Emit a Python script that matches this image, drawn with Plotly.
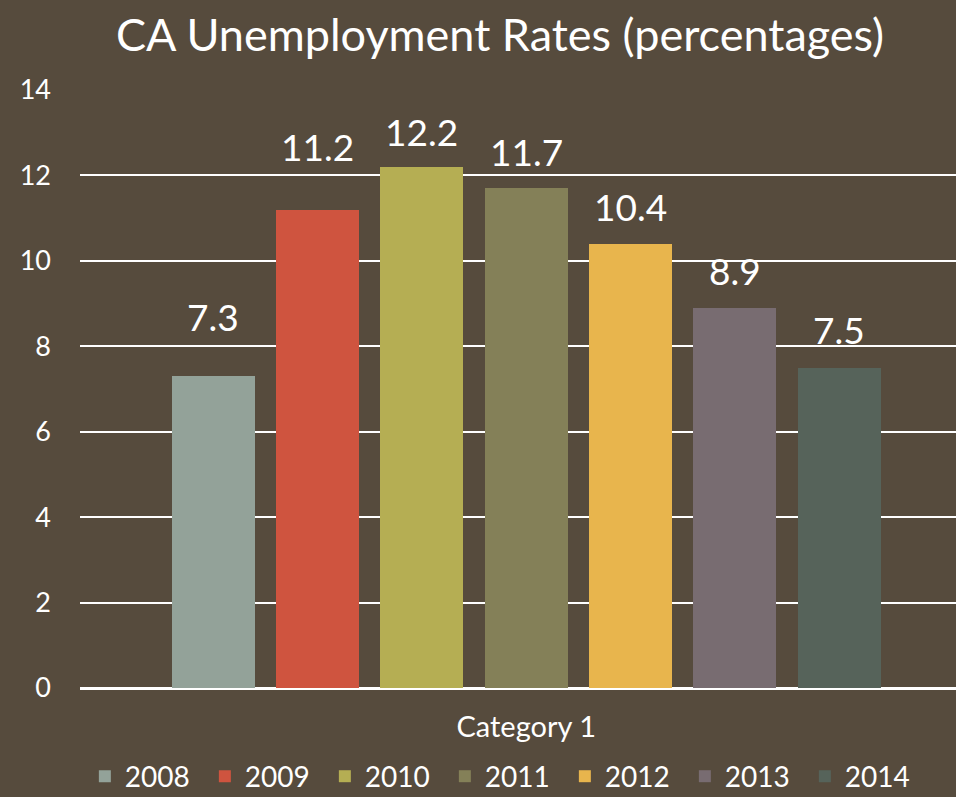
import plotly.graph_objects as go

years = ["2008", "2009", "2010", "2011", "2012", "2013", "2014"]
rates = [7.3, 11.2, 12.2, 11.7, 10.4, 8.9, 7.5]
colors = ["#93A299", "#CF543F", "#B5AE53", "#848058", "#E8B54D", "#786C71", "#56635A"]
category = "Category 1"
y_ticks = [0, 2, 4, 6, 8, 10, 12, 14]

# vertical offset (px) of each data label above its bar, as placed in the original
label_shift = [60, 63, 35, 37, 37, 37, 38]

BG = "#564B3D"
FONT = "Lato"

fig = go.Figure()
for i, (yr, v, c) in enumerate(zip(years, rates, colors)):
    fig.add_trace(go.Bar(x=[i], y=[v], name=yr, marker=dict(color=c, line=dict(width=0)),
                         width=0.795, hoverinfo="name+y"))
    fig.add_annotation(x=i, y=v, xref="x", yref="y", text=f"{v}", showarrow=False,
                       yanchor="middle", yshift=label_shift[i],
                       font=dict(family=FONT, size=37, color="white"))

fig.update_layout(
    width=956, height=797,
    paper_bgcolor=BG, plot_bgcolor=BG,
    margin=dict(l=80, r=0, t=90, b=109, autoexpand=False),
    title=dict(text="CA Unemployment Rates (percentages)", x=0.523, xanchor="center",
               y=1 - 35 / 797, yanchor="middle",
               font=dict(family=FONT, size=45, color="white")),
    showlegend=True,
    legend=dict(orientation="h", x=0.485, xanchor="center", y=-0.148, yanchor="middle",
                font=dict(family=FONT, size=28, color="white"), itemwidth=30,
                entrywidth=75, entrywidthmode="pixels",
                traceorder="normal", bgcolor="rgba(0,0,0,0)"),
    xaxis=dict(range=[-1.274, 7.117], tickvals=[3], ticktext=[category],
               showgrid=False, zeroline=False, showline=False, ticks="",
               ticklabelstandoff=19,
               tickfont=dict(family=FONT, size=29, color="white")),
    yaxis=dict(range=[0, 14], tickvals=y_ticks, showgrid=True, gridcolor="white",
               gridwidth=2, zeroline=True, zerolinecolor="white", zerolinewidth=2.5,
               showline=False, ticks="",
               ticklabelstandoff=28,
               tickfont=dict(family=FONT, size=27, color="white")),
    bargap=0,
)

fig.write_html("out.html")
